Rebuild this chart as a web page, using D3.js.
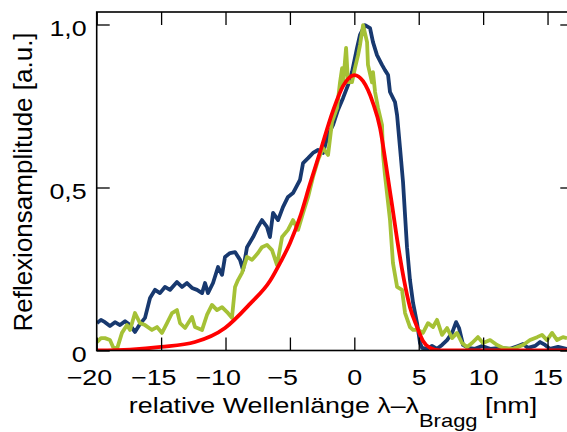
<!DOCTYPE html>
<html>
<head>
<meta charset="utf-8">
<script src="https://cdn.jsdelivr.net/npm/d3@7"></script>
<style>
  body { margin: 0; background: #fff; }
  svg { display: block; font-family: "Liberation Sans", Arial, sans-serif; }
</style>
</head>
<body>
<svg id="chart" width="567" height="432"></svg>
<script>
// measured spectrum, dark blue
const blueX = [-19.98, -19.67, -19.36, -18.97, -18.58, -18.19, -17.80, -17.41, -17.03, -16.64, -16.25, -15.86,
  -15.47, -15.09, -14.70, -14.31, -13.77, -13.38, -12.99, -12.60, -12.21, -11.82, -11.59, -11.36, -10.97, -10.58,
  -10.27, -10.04, -9.65, -9.26, -8.87, -8.64, -8.33, -7.86, -7.48, -7.17, -6.78, -6.55, -6.31, -5.92, -5.54,
  -5.15, -4.76, -4.22, -3.98, -3.59, -3.21, -2.82, -2.43, -2.04, -1.65, -1.27, -0.88, -0.49, -0.18, 0.21, 0.44,
  0.83, 1.22, 1.45, 1.76, 2.15, 2.38, 2.62, 2.77, 3.16, 3.32, 3.55, 3.78, 4.09, 4.32, 4.56, 4.87, 5.10, 5.26,
  5.64, 6.03, 6.42, 6.81, 7.20, 7.59, 7.90, 8.13, 8.44, 8.83, 9.37, 9.92, 10.54, 11.31, 12.09, 12.71, 13.10,
  13.49, 14.03, 14.42, 14.81, 15.19, 15.82, 16.51];
const blueY = [0.084, 0.094, 0.087, 0.075, 0.087, 0.078, 0.090, 0.078, 0.057, 0.081, 0.100, 0.161,
  0.186, 0.176, 0.195, 0.186, 0.210, 0.195, 0.207, 0.192, 0.186, 0.176, 0.207, 0.176, 0.207, 0.256,
  0.232, 0.287, 0.299, 0.302, 0.278, 0.247, 0.317, 0.348, 0.379, 0.400, 0.379, 0.348, 0.422, 0.400, 0.440,
  0.471, 0.483, 0.523, 0.575, 0.590, 0.606, 0.615, 0.606, 0.661, 0.692, 0.738, 0.774, 0.814, 0.854, 0.928, 0.968,
  0.998, 0.989, 0.946, 0.906, 0.876, 0.860, 0.845, 0.793, 0.762, 0.722, 0.621, 0.517, 0.317, 0.216, 0.146, 0.084, 0.023, 0.008,
  0.005, 0.014, 0.005, 0.017, 0.032, 0.054, 0.087, 0.069, 0.017, 0.008, 0.005, 0.014, 0.005, 0.008, 0.005, 0.014, 0.020,
  0.008, 0.014, 0.026, 0.017, 0.005, 0.011, 0.005];

// measured spectrum, olive green
const greenX = [-19.98, -19.67, -19.36, -18.97, -18.73, -18.42, -18.04, -17.65, -17.41, -17.03, -16.64, -16.25,
  -15.71, -15.32, -14.93, -14.54, -14.15, -13.77, -13.53, -13.14, -12.60, -12.37, -11.82, -11.44, -11.05, -10.66,
  -10.27, -9.88, -9.50, -9.26, -9.03, -8.72, -8.33, -7.94, -7.48, -7.17, -6.78, -6.39, -6.00, -5.61, -5.15,
  -4.76, -4.37, -3.98, -3.59, -3.21, -2.82, -2.43, -2.04, -1.73, -1.34, -1.11, -0.95, -0.88, -0.64, -0.49, -0.18,
  0.05, 0.29, 0.44, 0.68, 0.99, 1.06, 1.37, 1.45, 1.61, 1.84, 2.15, 2.23, 2.38, 2.77, 3.00, 3.32, 3.70, 3.94,
  4.32, 4.56, 4.95, 5.33, 5.72, 6.11, 6.42, 6.81, 7.20, 7.59, 7.97, 8.36, 8.75, 9.14, 9.60, 9.99, 10.54, 11.08,
  11.55, 12.32, 13.10, 13.64, 14.19, 14.57, 14.96, 15.35, 15.74, 16.20, 16.51];
const greenY = [0.026, 0.038, 0.038, 0.032, 0.011, 0.005, 0.054, 0.078, 0.063, 0.115, 0.084, 0.078,
  0.063, 0.072, 0.054, 0.084, 0.115, 0.124, 0.084, 0.069, 0.103, 0.072, 0.063, 0.109, 0.140, 0.124,
  0.133, 0.118, 0.100, 0.195, 0.216, 0.238, 0.287, 0.278, 0.299, 0.317, 0.324, 0.308, 0.262, 0.348, 0.370,
  0.400, 0.370, 0.422, 0.471, 0.532, 0.584, 0.621, 0.600, 0.701, 0.744, 0.823, 0.866, 0.814, 0.928, 0.823, 0.823,
  0.866, 0.906, 0.937, 0.998, 0.946, 0.876, 0.823, 0.854, 0.793, 0.744, 0.692, 0.600, 0.538, 0.400, 0.268, 0.195, 0.186, 0.115,
  0.072, 0.063, 0.063, 0.054, 0.084, 0.072, 0.094, 0.048, 0.069, 0.038, 0.054, 0.023, 0.011, 0.023, 0.041, 0.023, 0.032, 0.017,
  0.008, 0.005, 0.017, 0.032, 0.041, 0.048, 0.032, 0.054, 0.032, 0.041, 0.038];

// fitted curve, red
const fitX = [-19.98, -17.41, -15.01, -12.37, -10.04, -8.10, -6.55, -5.77, -4.99, -4.22, -3.44, -2.66, -1.65,
  -0.88, 0.00, 0.68, 1.45, 2.00, 2.46, 2.93, 3.39, 3.86, 4.32, 4.87, 5.33, 5.88, 6.65, 16.51];
const fitY = [0.000, 0.003, 0.011, 0.026, 0.069, 0.143, 0.213, 0.268, 0.330, 0.409, 0.511, 0.609, 0.736,
  0.811, 0.845, 0.826, 0.759, 0.682, 0.569, 0.446, 0.324, 0.216, 0.133, 0.072, 0.029, 0.008, 0.000, 0.000];

// tick values and labels
const xTicks = [-20, -15, -10, -5, 0, 5, 10, 15];
const xTickLabels = ["\u221220", "\u221215", "\u221210", "\u22125", "0", "5", "10", "15"];
const yTicks = [0, 0.5, 1.0];
const yTickLabels = ["0", "0,5", "1,0"];

const svg = d3.select("#chart");
const plotLeft = 96.7, plotRight = 573.3, plotTop = 12, plotBottom = 350.5;
// the lettering of the original is drawn wider than it is tall
const stretch = 1.22;

const x = d3.scaleLinear().domain([-20, 17]).range([plotLeft, plotRight]);
const y = d3.scaleLinear().domain([0, 1]).range([plotBottom, 24.5]);

// clip the curves to the frame
svg.append("defs").append("clipPath").attr("id", "plotClip")
  .append("rect")
  .attr("x", plotLeft).attr("y", plotTop)
  .attr("width", plotRight - plotLeft).attr("height", plotBottom - plotTop);

const plot = svg.append("g").attr("clip-path", "url(#plotClip)");

function drawSeries(xs, ys, color, curve) {
  const pts = xs.map((v, i) => [v, ys[i]]);
  const line = d3.line()
    .x(d => x(d[0]))
    .y(d => y(d[1]))
    .curve(curve);
  plot.append("path")
    .datum(pts)
    .attr("d", line)
    .attr("fill", "none")
    .attr("stroke", color)
    .attr("stroke-width", 3.8)
    .attr("stroke-linejoin", "round");
}

drawSeries(blueX, blueY, "#18396f", d3.curveLinear);
drawSeries(greenX, greenY, "#a5c136", d3.curveLinear);
drawSeries(fitX, fitY, "#ff0000", d3.curveMonotoneX);

// axes, ticks pointing inwards
const fmtX = d => xTickLabels[xTicks.indexOf(d)];
const fmtY = d => yTickLabels[yTicks.indexOf(d)];

const gBottom = svg.append("g")
  .attr("transform", `translate(0,${plotBottom})`)
  .call(d3.axisBottom(x).tickValues(xTicks).tickFormat(fmtX)
    .tickSizeInner(-13).tickSizeOuter(0).tickPadding(19));

const gTop = svg.append("g")
  .attr("transform", `translate(0,${plotTop})`)
  .call(d3.axisTop(x).tickValues(xTicks).tickFormat("")
    .tickSizeInner(-13).tickSizeOuter(0));

const gLeft = svg.append("g")
  .attr("transform", `translate(${plotLeft},0)`)
  .call(d3.axisLeft(y).tickValues(yTicks).tickFormat(fmtY)
    .tickSizeInner(-13).tickSizeOuter(0).tickPadding(10));

const gRight = svg.append("g")
  .attr("transform", `translate(${plotRight},0)`)
  .call(d3.axisRight(y).tickValues(yTicks).tickFormat("")
    .tickSizeInner(-13).tickSizeOuter(0));

[gBottom, gTop, gLeft, gRight].forEach(g => {
  g.select(".domain").remove();
  g.selectAll(".tick line").attr("stroke", "#000").attr("stroke-width", 1.3);
  g.selectAll(".tick text")
    .attr("fill", "#000")
    .attr("transform", `scale(${stretch},1)`)
    .style("font-size", "22px")
    .style("font-family", "'Liberation Sans', Arial, sans-serif");
});
gLeft.selectAll(".tick text").attr("dy", "0.48em").attr("x", -10 / stretch);
// digits sit centred on the tick, a minus sign hangs to the left
gBottom.selectAll(".tick text").attr("dx", d => d < 0 ? "-0.292em" : null);

// frame
svg.append("rect")
  .attr("x", plotLeft).attr("y", plotTop)
  .attr("width", plotRight - plotLeft).attr("height", plotBottom - plotTop)
  .attr("fill", "none")
  .attr("stroke", "#000")
  .attr("stroke-width", 1.6);

// axis titles
svg.append("text")
  .attr("transform", `translate(31.5,182) rotate(-90)`)
  .attr("text-anchor", "middle")
  .style("font-size", "26px")
  .text("Reflexionsamplitude [a.u.]");

const xt = svg.append("text")
  .attr("transform", `translate(333,413) scale(${stretch},1)`)
  .attr("text-anchor", "middle")
  .style("font-size", "22px");
xt.append("tspan").text("relative Wellenlänge \u03bb\u2013\u03bb");
xt.append("tspan").attr("dy", 14).style("font-size", "18px").text("Bragg");
xt.append("tspan").attr("dy", -14).text(" [nm]");
</script>
</body>
</html>
